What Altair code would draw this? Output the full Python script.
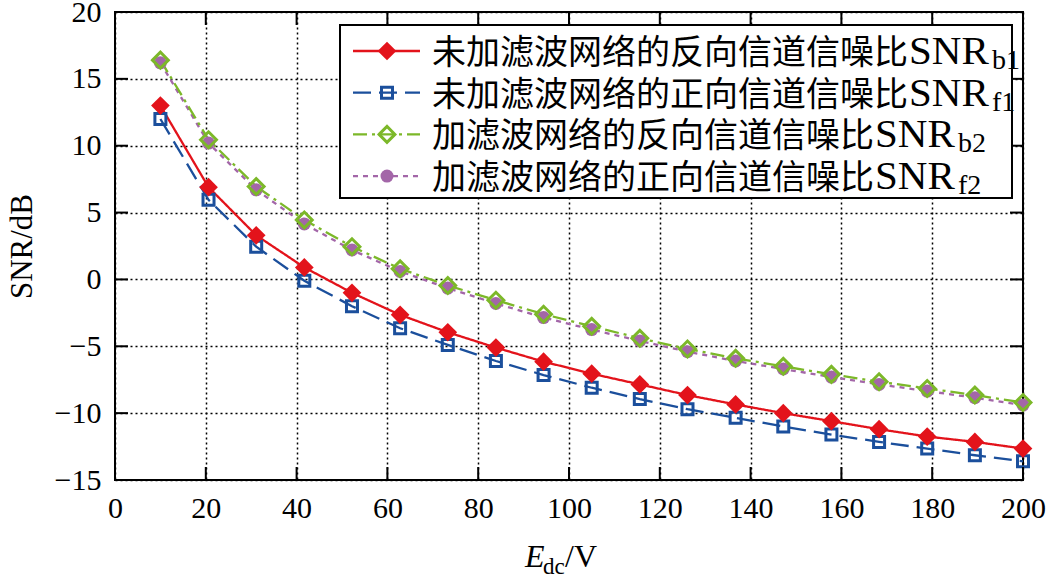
import altair as alt
import pandas as pd

# ---------------- data ----------------
X_VALUES = [10, 20.6, 31.1, 41.7, 52.2, 62.8, 73.3, 83.9, 94.4, 105.0,
            115.6, 126.1, 136.7, 147.2, 157.8, 168.3, 178.9, 189.4, 200]
SNR_B1 = [13.0, 6.9, 3.3, 0.9, -1.0, -2.65, -3.95, -5.1, -6.15, -7.05,
          -7.85, -8.65, -9.35, -10.0, -10.6, -11.2, -11.75, -12.15, -12.65]
SNR_F1 = [12.0, 5.95, 2.45, -0.1, -2.0, -3.65, -4.9, -6.1, -7.15, -8.1,
          -8.95, -9.7, -10.35, -11.0, -11.6, -12.15, -12.65, -13.15, -13.6]
SNR_B2 = [16.4, 10.45, 6.95, 4.45, 2.45, 0.8, -0.45, -1.55, -2.6, -3.5,
          -4.4, -5.2, -5.9, -6.5, -7.1, -7.65, -8.15, -8.65, -9.2]
SNR_F2 = [16.2, 10.2, 6.7, 4.15, 2.2, 0.6, -0.65, -1.8, -2.85, -3.75,
          -4.6, -5.4, -6.1, -6.7, -7.3, -7.85, -8.35, -8.85, -9.4]

SERIES_KEYS = ["b1", "f1", "b2", "f2"]
LEGEND_CJK = ["未加滤波网络的反向信道信噪比", "未加滤波网络的正向信道信噪比",
              "加滤波网络的反向信道信噪比", "加滤波网络的正向信道信噪比"]
LEGEND_MAIN = ["SNR", "SNR", "SNR", "SNR"]
LEGEND_SUB = ["b1", "f1", "b2", "f2"]

X_TICKS = [0, 20, 40, 60, 80, 100, 120, 140, 160, 180, 200]
Y_TICKS = [-15, -10, -5, 0, 5, 10, 15, 20]
Y_TITLE = "SNR/dB"
X_TITLE_PARTS = ["E", "dc", "/V"]

# ---------------- styles ----------------
W, H = 908, 468
SERIF = "Liberation Serif"
CJK = "Noto Sans CJK SC"
STYLES = {
    "b1": dict(color="#e3131b", dash=[1, 0], shape="diamond", filled=True, size=350, sw=2.3),
    "f1": dict(color="#1b4f9c", dash=[18, 8], shape="square", filled=False, size=121, sw=2.3),
    "b2": dict(color="#7cb829", dash=[14, 5, 3, 5], shape="diamond", filled=False, size=250, sw=2.3),
    "f2": dict(color="#a366a8", dash=[5, 5], shape="circle", filled=True, size=169, sw=2.3),
}
DRAW_ORDER = ["f1", "b1", "f2", "b2"]

values = {"b1": SNR_B1, "f1": SNR_F1, "b2": SNR_B2, "f2": SNR_F2}
rows = []
for k in SERIES_KEYS:
    for x, v in zip(X_VALUES, values[k]):
        rows.append({"x": x, "y": v, "s": k})
df = pd.DataFrame(rows)

xscale = alt.Scale(domain=[0, 200], nice=False, zero=False)
yscale = alt.Scale(domain=[-15, 20], nice=False, zero=False)

xaxis = alt.Axis(values=X_TICKS, grid=True, gridDash=[2, 3], gridColor="black",
                 gridWidth=1.5, gridOpacity=1, ticks=False, domain=False,
                 labelFont=SERIF, labelFontSize=30, labelColor="black",
                 labelPadding=13, title=None, labelFlush=False)
yaxis = alt.Axis(values=Y_TICKS, grid=True, gridDash=[2, 3], gridColor="black",
                 gridWidth=1.5, gridOpacity=1, ticks=False, domain=False,
                 labelFont=SERIF, labelFontSize=30, labelColor="black",
                 labelPadding=14, title=Y_TITLE, titleFont=SERIF, titleFontSize=31,
                 titleFontWeight="normal", titleColor="black", titleX=-93, titleY=234,
                 titleAngle=270, titleAlign="center", titleBaseline="middle",
                 labelFlush=False)

layers = []
base = alt.Chart(df)
# axes + grid layer
layers.append(
    alt.Chart(pd.DataFrame({"x": [0], "y": [0]})).mark_point(opacity=0).encode(
        x=alt.X("x:Q", scale=xscale, axis=xaxis),
        y=alt.Y("y:Q", scale=yscale, axis=yaxis),
    )
)

for k in DRAW_ORDER:
    st = STYLES[k]
    sub = base.transform_filter(alt.datum.s == k)
    layers.append(
        sub.mark_line(color=st["color"], strokeDash=st["dash"], strokeWidth=st["sw"]).encode(
            x=alt.X("x:Q", scale=xscale), y=alt.Y("y:Q", scale=yscale))
    )
for k in DRAW_ORDER:
    st = STYLES[k]
    sub = base.transform_filter(alt.datum.s == k)
    layers.append(
        sub.mark_point(shape=st["shape"], filled=st["filled"], size=st["size"],
                       color=st["color"], strokeWidth=3 if not st["filled"] else 1,
                       opacity=1).encode(
            x=alt.X("x:Q", scale=xscale), y=alt.Y("y:Q", scale=yscale))
    )

# inward ticks on all four sides
xt = pd.DataFrame({"v": X_TICKS})
yt = pd.DataFrame({"v": Y_TICKS})
layers.append(alt.Chart(xt).mark_rule(color="black", strokeWidth=2).encode(
    x=alt.X("v:Q", scale=xscale), y=alt.value(H), y2=alt.value(H - 13)))
layers.append(alt.Chart(xt).mark_rule(color="black", strokeWidth=2).encode(
    x=alt.X("v:Q", scale=xscale), y=alt.value(0), y2=alt.value(13)))
layers.append(alt.Chart(yt).mark_rule(color="black", strokeWidth=2).encode(
    y=alt.Y("v:Q", scale=yscale), x=alt.value(0), x2=alt.value(13)))
layers.append(alt.Chart(yt).mark_rule(color="black", strokeWidth=2).encode(
    y=alt.Y("v:Q", scale=yscale), x=alt.value(W), x2=alt.value(W - 13)))

# ---------------- custom legend ----------------
leg = pd.DataFrame({"s": SERIES_KEYS, "row": [0, 1, 2, 3], "cjk": LEGEND_CJK,
                    "main": LEGEND_MAIN, "sub": LEGEND_SUB,
                    "n": [len(t) for t in LEGEND_CJK]})
layers.append(alt.Chart(pd.DataFrame({"a": [0]})).mark_rect(
    fill="white", stroke="black", strokeWidth=2).encode(
    x=alt.value(225), x2=alt.value(897), y=alt.value(13), y2=alt.value(186)))

lb = alt.Chart(leg).transform_calculate(
    cy="39 + datum.row * 41.7",
    by="52 + datum.row * 41.7",
    sby="57 + datum.row * 41.7",
    snrx="317 + datum.n * 34 + 1",
    subx="317 + datum.n * 34 + 84",
)
for k in SERIES_KEYS:
    st = STYLES[k]
    f = lb.transform_filter(alt.datum.s == k)
    layers.append(f.mark_rule(color=st["color"], strokeDash=st["dash"], strokeWidth=st["sw"]).encode(
        y=alt.Y("cy:Q", scale=None), x=alt.value(238), x2=alt.value(305)))
    layers.append(f.mark_point(shape=st["shape"], filled=st["filled"], size=st["size"],
                               color=st["color"], strokeWidth=3 if not st["filled"] else 1,
                               opacity=1).encode(
        y=alt.Y("cy:Q", scale=None), x=alt.value(272)))

layers.append(lb.mark_text(font=CJK, fontSize=34, align="left", baseline="alphabetic",
                           color="black").encode(
    x=alt.value(317), y=alt.Y("by:Q", scale=None), text="cjk:N"))
layers.append(lb.mark_text(font=SERIF, fontSize=41, align="left", baseline="alphabetic",
                           color="black").encode(
    x=alt.X("snrx:Q", scale=None), y=alt.Y("by:Q", scale=None), text="main:N"))
layers.append(lb.mark_text(font=SERIF, fontSize=28, align="left", baseline="alphabetic",
                           color="black").encode(
    x=alt.X("subx:Q", scale=None), y=alt.Y("sby:Q", scale=None), text="sub:N"))

# ---------------- x axis title with subscript ----------------
layers.append(alt.Chart(pd.DataFrame({"t": [X_TITLE_PARTS[0]]})).mark_text(
    font=SERIF, fontSize=32, fontStyle="italic",
    align="left", baseline="alphabetic", color="black").encode(
    x=alt.value(410), y=alt.value(555), text="t:N"))
layers.append(alt.Chart(pd.DataFrame({"t": [X_TITLE_PARTS[1]]})).mark_text(
    font=SERIF, fontSize=23, align="left", baseline="alphabetic", color="black").encode(
    x=alt.value(428), y=alt.value(562), text="t:N"))
layers.append(alt.Chart(pd.DataFrame({"t": [X_TITLE_PARTS[2]]})).mark_text(
    font=SERIF, fontSize=32, align="left", baseline="alphabetic", color="black").encode(
    x=alt.value(450), y=alt.value(555), text="t:N"))

chart = alt.layer(*layers).properties(
    width=W, height=H,
    autosize=alt.AutoSizeParams(type="none"),
    padding={"left": 115, "top": 12, "right": 26, "bottom": 99},
    background="white",
).configure_view(stroke="black", strokeWidth=2)

chart.save("out.html", embed_options={"renderer": "svg", "actions": False})
